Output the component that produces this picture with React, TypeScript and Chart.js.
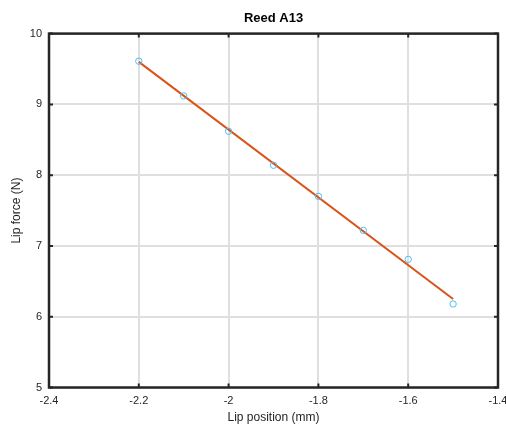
import React, { useEffect, useRef } from "react";
import { Chart, registerables } from "chart.js";

Chart.register(...registerables);

const lipPosition = [-2.2, -2.1, -2.0, -1.9, -1.8, -1.7, -1.6, -1.5];
const lipForce = [9.61, 9.12, 8.62, 8.14, 7.7, 7.22, 6.81, 6.18];
const fitX = [-2.2, -1.5];
const fitY = [9.6, 6.25];
const xTicks = [-2.4, -2.2, -2.0, -1.8, -1.6, -1.4];
const yTicks = [5, 6, 7, 8, 9, 10];

const AXIS = "#262626";
const GRID = "#dfdfdf";
const FONT = "'Liberation Sans', Arial, Helvetica, sans-serif";

const framePlugin = {
  id: "frame",
  afterDatasetsDraw(chart: any) {
    const { ctx, chartArea: a, scales } = chart;
    ctx.save();
    ctx.strokeStyle = AXIS;
    ctx.lineWidth = 2;
    ctx.beginPath();
    const tl = 4;
    for (const v of xTicks) {
      const px = scales.x.getPixelForValue(v);
      ctx.moveTo(px, a.bottom);
      ctx.lineTo(px, a.bottom - tl);
      ctx.moveTo(px, a.top);
      ctx.lineTo(px, a.top + tl);
    }
    for (const v of yTicks) {
      const py = scales.y.getPixelForValue(v);
      ctx.moveTo(a.left, py);
      ctx.lineTo(a.left + tl, py);
      ctx.moveTo(a.right, py);
      ctx.lineTo(a.right - tl, py);
    }
    ctx.stroke();
    ctx.lineWidth = 2.5;
    ctx.strokeRect(a.left, a.top, a.right - a.left, a.bottom - a.top);
    ctx.restore();
  },
};

export default function App() {
  const ref = useRef<HTMLCanvasElement>(null);
  useEffect(() => {
    if (!ref.current) return;
    const chart = new Chart(ref.current, {
      type: "scatter",
      data: {
        datasets: [
          {
            label: "Fit",
            type: "line",
            data: fitX.map((x, i) => ({ x, y: fitY[i] })),
            borderColor: "#D95319",
            borderWidth: 2,
            pointRadius: 0,
            fill: false,
            order: 2,
          } as any,
          {
            label: "Data",
            data: lipPosition.map((x, i) => ({ x, y: lipForce[i] })),
            borderColor: "#4DBEEE",
            backgroundColor: "rgba(0,0,0,0)",
            borderWidth: 1,
            pointRadius: 3.2,
            pointStyle: "circle",
            order: 1,
          },
        ],
      },
      options: {
        animation: false,
        responsive: false,
        devicePixelRatio: 1,
        layout: { padding: { left: 0, right: 8, top: 0, bottom: 0 } },
        plugins: {
          legend: { display: false },
          tooltip: { enabled: false },
          title: {
            display: true,
            text: "Reed A13",
            fullSize: false,
            color: "#000",
            font: { family: FONT, size: 13, weight: "bold" },
            padding: { top: 11, bottom: 7 },
          },
        },
        scales: {
          x: {
            type: "linear",
            min: -2.4,
            max: -1.4,
            afterBuildTicks: (s: any) => {
              s.ticks = xTicks.map((v) => ({ value: v }));
            },
            afterFit: (s: any) => {
              s.height = 38.5;
              s.paddingLeft = 0;
              s.paddingRight = 0;
            },
            ticks: {
              color: AXIS,
              font: { family: FONT, size: 11 },
              padding: 7,
              maxRotation: 0,
              callback: (v: any) => String(Number(Number(v).toFixed(1))),
            },
            grid: {
              color: GRID,
              lineWidth: 2,
              drawTicks: false,
            },
            border: { display: false },
            title: {
              display: true,
              text: "Lip position (mm)",
              color: AXIS,
              font: { family: FONT, size: 12 },
              padding: { top: 0, bottom: 1 },
            },
          },
          y: {
            type: "linear",
            min: 5,
            max: 10,
            afterBuildTicks: (s: any) => {
              s.ticks = yTicks.map((v) => ({ value: v }));
            },
            afterFit: (s: any) => {
              s.width = 49;
              s.paddingTop = 0;
              s.paddingBottom = 0;
            },
            ticks: {
              color: AXIS,
              font: { family: FONT, size: 11 },
              padding: 7,
              callback: (v: any) => String(Number(Number(v).toFixed(1))),
            },
            grid: {
              color: GRID,
              lineWidth: 2,
              drawTicks: false,
            },
            border: { display: false },
            title: {
              display: true,
              text: "Lip force (N)",
              color: AXIS,
              font: { family: FONT, size: 12 },
              padding: { top: 9, bottom: 0 },
            },
          },
        },
      },
      plugins: [framePlugin],
    } as any);
    return () => chart.destroy();
  }, []);
  return (
    <div style={{ position: "fixed", left: 0, top: 0, width: 506, height: 426, background: "#fff" }}>
      <canvas ref={ref} width={506} height={426} style={{ width: 506, height: 426 }} />
    </div>
  );
}
